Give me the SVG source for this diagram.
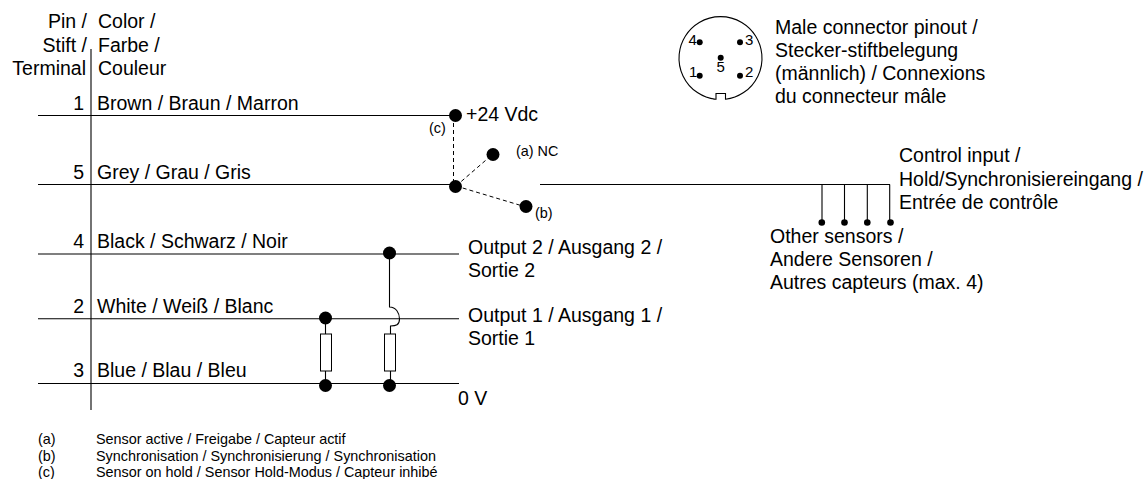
<svg xmlns="http://www.w3.org/2000/svg" width="1144" height="479" viewBox="0 0 1144 479">
<style>
text{font-family:"Liberation Sans",Arial,sans-serif;font-size:19.5px;fill:#000}
.e{text-anchor:end}
.s{font-size:14.4px}
.f{font-size:14.4px}
.p{font-size:15px}
.w{fill:none;stroke:#000;stroke-width:1.1}
.d{fill:none;stroke:#000;stroke-width:1;stroke-dasharray:4 3}
.r{fill:#fff;stroke:#000;stroke-width:1}
.t{fill:#000}
</style>
<rect width="1144" height="479" fill="#fff"/>
<g id="connectors">
<path class="w" d="M91 49V410"/>
<path class="w" d="M38 115.500H456"/>
<path class="w" d="M38 184.500H456"/>
<path class="w" d="M540 184.500H890"/>
<path class="w" d="M38 254H459"/>
<path class="w" d="M38 318.800H459"/>
<path class="w" d="M38 383.500H459"/>
<path class="d" d="M453.500 116V186"/>
<path class="d" d="M456 186L493 154"/>
<path class="d" d="M456 186L526 207"/>
<path class="w" d="M389.500 254V307C396 307 399.500 313 399.500 319C399.500 325 396 326 390.500 326V334"/>
<path class="w" d="M325.500 319V334M325.500 370V384"/>
<path class="w" d="M390.500 370V384"/>
<path class="w" d="M822 184.500V222M844.500 184.500V222M867.300 184.500V222M889.700 184.500V222"/>
</g>
<g id="node-resistor-1"><rect class="r" x="320.500" y="334" width="11" height="37"/></g>
<g id="node-resistor-2"><rect class="r" x="384.500" y="334" width="11" height="37"/></g>
<g id="node-junctions">
<circle class="t" cx="455.500" cy="115.500" r="6.500"/>
<circle class="t" cx="455.500" cy="186.500" r="6.500"/>
<circle class="t" cx="493" cy="154.500" r="6.500"/>
<circle class="t" cx="526" cy="206.500" r="6.500"/>
<circle class="t" cx="389.500" cy="253" r="6.500"/>
<circle class="t" cx="325.500" cy="318" r="6.500"/>
<circle class="t" cx="325.500" cy="385.500" r="6.500"/>
<circle class="t" cx="389.500" cy="385.500" r="6.500"/>
<circle class="t" cx="821.800" cy="222.500" r="3.300"/>
<circle class="t" cx="844.500" cy="222.500" r="3.300"/>
<circle class="t" cx="867.300" cy="222.500" r="3.300"/>
<circle class="t" cx="890.500" cy="222.500" r="3.300"/>
</g>
<g id="node-connector">
<path class="w" d="M715.500 99.300A41.500 41.500 0 1 1 725.500 99.300M713.500 99.300H716V93.500H725.500V99.300H727"/>
<circle class="t" cx="699.700" cy="42.300" r="3"/><circle class="t" cx="740" cy="42.300" r="3"/>
<circle class="t" cx="720.700" cy="57.700" r="3"/>
<circle class="t" cx="699.700" cy="75.700" r="3"/><circle class="t" cx="740" cy="75.700" r="3"/>
<text class="p" x="688.500" y="45">4</text><text class="p" x="745" y="45">3</text>
<text class="p" x="716.500" y="72">5</text>
<text class="p" x="689" y="77">1</text><text class="p" x="745" y="77">2</text>
</g>
<g id="node-labels">
<text class="e" x="87" y="28">Pin /</text><text class="e" x="87" y="52">Stift /</text><text class="e" x="86" y="75">Terminal</text>
<text x="98" y="28">Color /</text><text x="98" y="52">Farbe /</text><text x="98" y="75">Couleur</text>
<text class="e" x="84" y="110">1</text><text x="97" y="110">Brown / Braun / Marron</text>
<text class="e" x="84" y="179">5</text><text x="97" y="179">Grey / Grau / Gris</text>
<text class="e" x="84" y="247.500">4</text><text x="97" y="247.500">Black / Schwarz / Noir</text>
<text class="e" x="84" y="312.500">2</text><text x="97" y="312.500">White / Weiß / Blanc</text>
<text class="e" x="84" y="377">3</text><text x="97" y="377">Blue / Blau / Bleu</text>
<text x="466" y="121">+24 Vdc</text>
<text class="s" x="429" y="133">(c)</text>
<text class="s" x="516" y="156">(a) NC</text>
<text class="s" x="535" y="218">(b)</text>
<text x="468" y="253.500">Output 2 / Ausgang 2 /</text><text x="468" y="276.500">Sortie 2</text>
<text x="468" y="321.500">Output 1 / Ausgang 1 /</text><text x="468" y="345">Sortie 1</text>
<text x="458" y="405">0 V</text>
<text x="899" y="162">Control input /</text><text x="899" y="185.500">Hold/Synchronisiereingang /</text><text x="899" y="208.500">Entrée de contrôle</text>
<text x="770" y="242.500">Other sensors /</text><text x="770" y="266">Andere Sensoren  /</text><text x="770" y="289">Autres capteurs (max. 4)</text>
<text x="775" y="34">Male connector pinout /</text><text x="775" y="57">Stecker-stiftbelegung</text><text x="775" y="80">(männlich) / Connexions</text><text x="775" y="103">du connecteur mâle</text>
<text class="f" x="38" y="444">(a)</text><text class="f" x="96" y="444">Sensor active / Freigabe / Capteur actif</text>
<text class="f" x="38" y="461">(b)</text><text class="f" x="96" y="461">Synchronisation / Synchronisierung / Synchronisation</text>
<text class="f" x="38" y="477">(c)</text><text class="f" x="96" y="477">Sensor on hold / Sensor Hold-Modus / Capteur inhibé</text>
</g>
</svg>
